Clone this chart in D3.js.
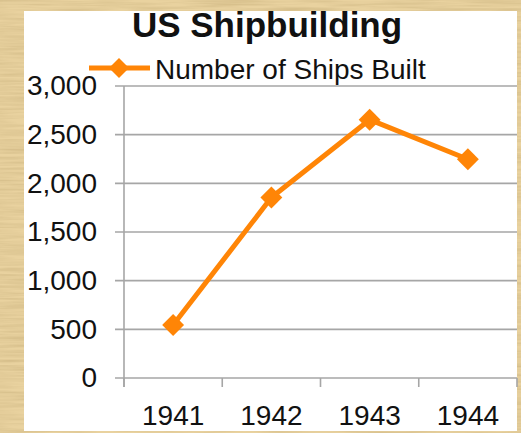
<!DOCTYPE html>
<html>
<head>
<meta charset="utf-8">
<script src="https://cdn.jsdelivr.net/npm/d3@7"></script>
<style>
  html, body { margin: 0; padding: 0; background: #e8d09c; }
  svg { display: block; }
  text { font-family: "Liberation Sans", Arial, sans-serif; }
</style>
</head>
<body>
<div id="chart"></div>
<script>
// Datos del gráfico
const years = ['1941', '1942', '1943', '1944'];
const shipsBuilt = [544, 1854, 2654, 2247];
const yTicks = [0, 500, 1000, 1500, 2000, 2500, 3000];

const width = 521;
const height = 433;
const orange = '#ff8506';

const svg = d3.select('#chart').append('svg')
    .attr('width', width)
    .attr('height', height);

// Fondo tipo pergamino
const defs = svg.append('defs');
const filter = defs.append('filter').attr('id', 'parchment')
    .attr('x', 0).attr('y', 0).attr('width', '100%').attr('height', '100%');
filter.append('feTurbulence')
    .attr('type', 'fractalNoise')
    .attr('baseFrequency', '0.015 0.35')
    .attr('numOctaves', 3)
    .attr('seed', 4)
    .attr('result', 'noise');
filter.append('feColorMatrix')
    .attr('in', 'noise')
    .attr('type', 'matrix')
    .attr('values', '0 0 0 0 0.45  0 0 0 0 0.32  0 0 0 0 0.12  1.1 0 0 0 -0.35')
    .attr('result', 'tint');
filter.append('feComposite')
    .attr('in', 'tint').attr('in2', 'SourceGraphic').attr('operator', 'over');

svg.append('rect')
    .attr('width', width).attr('height', height)
    .attr('fill', '#e9d29f');
svg.append('rect')
    .attr('width', width).attr('height', height)
    .attr('fill', '#e9d29f')
    .attr('opacity', 0.6)
    .attr('filter', 'url(#parchment)');

// Panel blanco
svg.append('rect')
    .attr('x', 24).attr('y', 11)
    .attr('width', 493).attr('height', 420)
    .attr('fill', '#fff');

const plot = { left: 124, right: 517, top: 86, bottom: 378 };

const xScale = d3.scaleBand()
    .domain(years)
    .range([plot.left, plot.right]);

const yScale = d3.scaleLinear()
    .domain([0, 3000])
    .range([plot.bottom, plot.top]);

const g = svg.append('g');

// Líneas de cuadrícula
g.selectAll('.grid')
    .data(yTicks)
    .enter()
    .append('line')
    .attr('x1', plot.left - 9)
    .attr('x2', plot.right)
    .attr('y1', d => yScale(d))
    .attr('y2', d => yScale(d))
    .attr('stroke', '#a6a6a6')
    .attr('stroke-width', 1.6);

// Eje Y
const yAxis = g.append('g')
    .attr('transform', `translate(${plot.left},0)`)
    .call(d3.axisLeft(yScale).tickValues(yTicks).tickSize(0).tickPadding(27)
        .tickFormat(d3.format(',')));
yAxis.select('.domain').remove();
yAxis.selectAll('text')
    .attr('fill', '#111')
    .style('font-size', '28px');

g.append('line')
    .attr('x1', plot.left).attr('x2', plot.left)
    .attr('y1', plot.top).attr('y2', plot.bottom + 9)
    .attr('stroke', '#a6a6a6')
    .attr('stroke-width', 1.6);

// Marcas del eje X en los bordes de las bandas
const edges = years.map(d => xScale(d)).concat([xScale(years[years.length - 1]) + xScale.bandwidth()]);
g.selectAll('.xtick')
    .data(edges)
    .enter()
    .append('line')
    .attr('x1', d => d).attr('x2', d => d)
    .attr('y1', plot.bottom).attr('y2', plot.bottom + 9)
    .attr('stroke', '#a6a6a6')
    .attr('stroke-width', 1.6);

// Eje X
const xAxis = g.append('g')
    .attr('transform', `translate(0,${plot.bottom})`)
    .call(d3.axisBottom(xScale).tickSize(0).tickPadding(27));
xAxis.select('.domain').remove();
xAxis.selectAll('text')
    .attr('fill', '#111')
    .style('font-size', '28px');

// Serie
const points = years.map((y, i) => ({ year: y, value: shipsBuilt[i] }));
const cx = d => xScale(d.year) + xScale.bandwidth() / 2;

g.append('path')
    .datum(points)
    .attr('fill', 'none')
    .attr('stroke', orange)
    .attr('stroke-width', 5)
    .attr('stroke-linejoin', 'round')
    .attr('d', d3.line().x(cx).y(d => yScale(d.value)));

const diamond = d3.symbol().type(d3.symbolSquare).size(240);
g.selectAll('.marker')
    .data(points)
    .enter()
    .append('path')
    .attr('d', diamond)
    .attr('fill', orange)
    .attr('transform', d => `translate(${cx(d)},${yScale(d.value)}) rotate(45)`);

// Leyenda
const legend = svg.append('g');
legend.append('line')
    .attr('x1', 89).attr('x2', 150)
    .attr('y1', 68).attr('y2', 68)
    .attr('stroke', orange)
    .attr('stroke-width', 5);
legend.append('path')
    .attr('d', d3.symbol().type(d3.symbolSquare).size(200))
    .attr('fill', orange)
    .attr('transform', 'translate(119,68) rotate(45)');
legend.append('text')
    .attr('x', 155).attr('y', 79)
    .attr('fill', '#111')
    .style('font-size', '28px')
    .text('Number of Ships Built');

// Título
svg.append('text')
    .attr('x', 267).attr('y', 37)
    .attr('text-anchor', 'middle')
    .attr('fill', '#111')
    .style('font-size', '35px')
    .style('font-weight', 'bold')
    .text('US Shipbuilding');
</script>
</body>
</html>
